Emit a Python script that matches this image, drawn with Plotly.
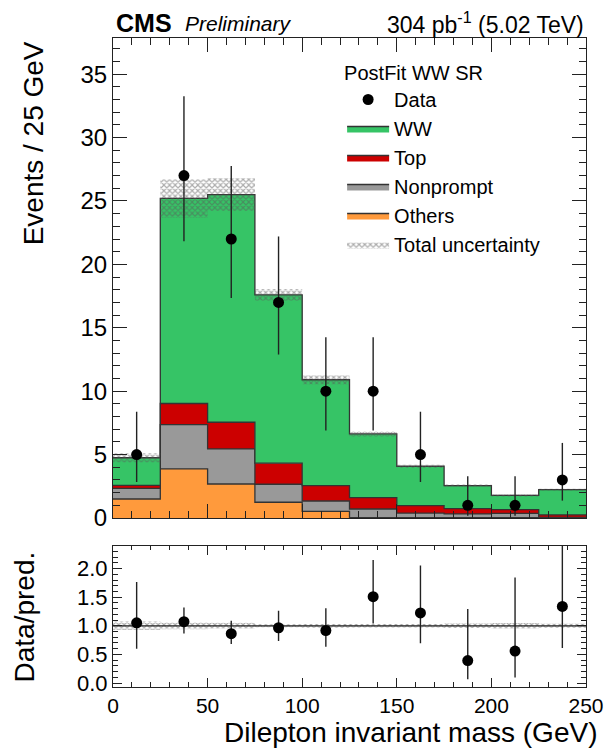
import plotly.graph_objects as go

# ---------------- data ----------------
bin_edges = [0, 25, 50, 75, 100, 125, 150, 175, 200, 225, 250]
others    = [1.50, 3.87, 2.68, 1.24, 0.53, 0.03, 0.03, 0.02, 0.02, 0.01]
nonprompt = [0.84, 3.50, 2.77, 1.42, 0.81, 0.68, 0.36, 0.30, 0.35, 0.04]
top       = [0.24, 1.66, 2.10, 1.66, 1.21, 0.89, 0.58, 0.42, 0.29, 0.19]
ww        = [2.17, 16.17, 17.95, 13.28, 8.35, 5.03, 3.11, 1.81, 1.13, 2.00]
tot_unc   = [0.35, 1.50, 1.30, 0.45, 0.35, 0.20, 0.12, 0.10, 0.09, 0.08]
data      = [5, 27, 22, 17, 10, 10, 5, 1, 1, 3]
data_err_up = [3.38, 6.26, 5.76, 5.20, 4.26, 4.26, 3.38, 2.30, 2.30, 2.92]
data_err_dn = [2.16, 5.17, 4.66, 4.11, 3.11, 3.11, 2.16, 0.83, 0.83, 1.63]

x_tick_vals = [0, 50, 100, 150, 200, 250]
y_tick_vals = [0, 5, 10, 15, 20, 25, 30, 35]
r_tick_vals = [0.0, 0.5, 1.0, 1.5, 2.0]

# ---------------- derived ----------------
nb = len(data)
centers = [(bin_edges[i] + bin_edges[i + 1]) / 2 for i in range(nb)]
c1 = others
c2 = [a + b for a, b in zip(c1, nonprompt)]
c3 = [a + b for a, b in zip(c2, top)]
c4 = [a + b for a, b in zip(c3, ww)]
total = c4


def step(v):
    return list(v) + [v[-1]]


ratio = [d / t for d, t in zip(data, total)]
ratio_up = [e / t for e, t in zip(data_err_up, total)]
ratio_dn = [e / t for e, t in zip(data_err_dn, total)]
rel_lo = [1 - u / t for u, t in zip(tot_unc, total)]
rel_hi = [1 + u / t for u, t in zip(tot_unc, total)]

# ---------------- geometry helpers ----------------
W, H = 616, 751
ML, MR, MT, MB = 113, 22, 38, 64
PW, PH = W - ML - MR, H - MT - MB


def px(p):
    return (p - ML) / PW


def py(p):
    return (H - MB - p) / PH


FONT = "Liberation Sans, Arial, Helvetica, sans-serif"
EDGE = "#333333"
COL = {"WW": "#36c466", "Top": "#cc0000", "Nonprompt": "#999999", "Others": "#ff9a3c"}
HATCH = dict(shape="x", fgcolor="#5a5a5a", bgcolor="rgba(0,0,0,0)", size=4, solidity=0.5)

fig = go.Figure()

stack = [("Others", c1, "tozeroy", 5), ("Nonprompt", c2, "tonexty", 4),
         ("Top", c3, "tonexty", 3), ("WW", c4, "tonexty", 2)]
for name, cum, fill, rank in stack:
    fig.add_trace(go.Scatter(
        x=bin_edges, y=step(cum), mode="lines", line_shape="hv",
        line=dict(color=EDGE, width=1.3), fill=fill, fillcolor=COL[name],
        name=name, legendgroup=name, legendrank=rank,
        xaxis="x", yaxis="y", hoverinfo="skip"))

# total uncertainty band (main)
fig.add_trace(go.Scatter(
    x=bin_edges, y=step([t - u for t, u in zip(total, tot_unc)]), mode="lines",
    line_shape="hv", line=dict(width=0, color="rgba(0,0,0,0)"), showlegend=False,
    xaxis="x", yaxis="y", hoverinfo="skip"))
fig.add_trace(go.Scatter(
    x=bin_edges, y=step([t + u for t, u in zip(total, tot_unc)]), mode="lines",
    line_shape="hv", line=dict(width=0, color="rgba(0,0,0,0)"), fill="tonexty",
    fillcolor="rgba(0,0,0,0)", fillpattern=HATCH,
    name="Total uncertainty", legendgroup="unc", legendrank=6,
    xaxis="x", yaxis="y", hoverinfo="skip"))

# data
fig.add_trace(go.Scatter(
    x=centers, y=data, mode="markers", name="Data", legendgroup="data", legendrank=1,
    marker=dict(color="black", size=11),
    error_y=dict(type="data", array=data_err_up, arrayminus=data_err_dn,
                 color="#222222", thickness=1.4, width=0),
    xaxis="x", yaxis="y"))

# ratio band
fig.add_trace(go.Scatter(
    x=bin_edges, y=step(rel_lo), mode="lines", line_shape="hv",
    line=dict(width=0, color="rgba(0,0,0,0)"), showlegend=False,
    xaxis="x2", yaxis="y2", hoverinfo="skip"))
fig.add_trace(go.Scatter(
    x=bin_edges, y=step(rel_hi), mode="lines", line_shape="hv",
    line=dict(width=0, color="rgba(0,0,0,0)"), fill="tonexty",
    fillcolor="rgba(0,0,0,0)", fillpattern=HATCH,
    showlegend=False, xaxis="x2", yaxis="y2", hoverinfo="skip"))
fig.add_trace(go.Scatter(
    x=[bin_edges[0], bin_edges[-1]], y=[1, 1], mode="lines",
    line=dict(color="#222222", width=1.2), showlegend=False,
    xaxis="x2", yaxis="y2", hoverinfo="skip"))
fig.add_trace(go.Scatter(
    x=centers, y=ratio, mode="markers", showlegend=False,
    marker=dict(color="black", size=11),
    error_y=dict(type="data", array=ratio_up, arrayminus=ratio_dn,
                 color="#222222", thickness=1.4, width=0),
    xaxis="x2", yaxis="y2"))

axis_common = dict(showline=True, linecolor="#222222", linewidth=1.2, mirror="allticks",
                   ticks="inside", tickcolor="#222222", showgrid=False, zeroline=False)

fig.update_layout(
    width=W, height=H, margin=dict(l=ML, r=MR, t=MT, b=MB),
    paper_bgcolor="white", plot_bgcolor="white",
    font=dict(family=FONT, color="black"),
    showlegend=True,
    legend=dict(x=px(346), xanchor="left", y=py(54), yanchor="top",
                bgcolor="rgba(0,0,0,0)", font=dict(size=20), traceorder="grouped",
                tracegroupgap=0, itemwidth=42,
                title=dict(text="PostFit WW SR", font=dict(size=20))),
    xaxis=dict(domain=[0, 1], range=[0, 250], anchor="y", tickvals=x_tick_vals,
               showticklabels=False, ticklen=14, tickwidth=1.2,
               minor=dict(dtick=10, ticklen=7, ticks="inside", tickcolor="#222222"),
               **axis_common),
    yaxis=dict(domain=[py(518), 1], range=[0, 37.85], anchor="x", tickvals=y_tick_vals,
               ticklen=14, tickwidth=1.2, tickfont=dict(size=24),
               minor=dict(dtick=1, ticklen=7, ticks="inside", tickcolor="#222222"),
               **axis_common),
    xaxis2=dict(domain=[0, 1], range=[0, 250], anchor="y2", matches="x",
                tickvals=x_tick_vals, ticklen=9, tickwidth=1.2, tickfont=dict(size=21),
                minor=dict(dtick=10, ticklen=4.5, ticks="inside", tickcolor="#222222"),
                **axis_common),
    yaxis2=dict(domain=[0, py(545.7)], range=[-0.07, 2.40], anchor="x2",
                tickvals=r_tick_vals, ticktext=["0.0", "0.5", "1.0", "1.5", "2.0"],
                ticklen=9, tickwidth=1.2, tickfont=dict(size=22),
                minor=dict(dtick=0.1, ticklen=4.5, ticks="inside", tickcolor="#222222"),
                **axis_common),
)

ann = [
    dict(text="<b>CMS</b>", x=px(114), y=py(23.5), xanchor="left", yanchor="middle",
         font=dict(size=25)),
    dict(text="<i>Preliminary</i>", x=px(184), y=py(24), xanchor="left", yanchor="middle",
         font=dict(size=21)),
    dict(text="304 pb<sup>-1</sup> (5.02 TeV)", x=px(594), y=py(23), xanchor="right",
         yanchor="middle", font=dict(size=23)),
    dict(text="Events / 25 GeV", x=px(32), y=py(143), xanchor="center", yanchor="middle",
         textangle=-90, font=dict(size=28)),
    dict(text="Data/pred.", x=px(23), y=py(617), xanchor="center", yanchor="middle",
         textangle=-90, font=dict(size=28)),
    dict(text="Dilepton invariant mass (GeV)", x=px(607), y=py(733), xanchor="right",
         yanchor="middle", font=dict(size=28)),
]
for a in ann:
    a.update(xref="paper", yref="paper", showarrow=False)
fig.update_layout(annotations=ann)

fig.write_html("out.html")
